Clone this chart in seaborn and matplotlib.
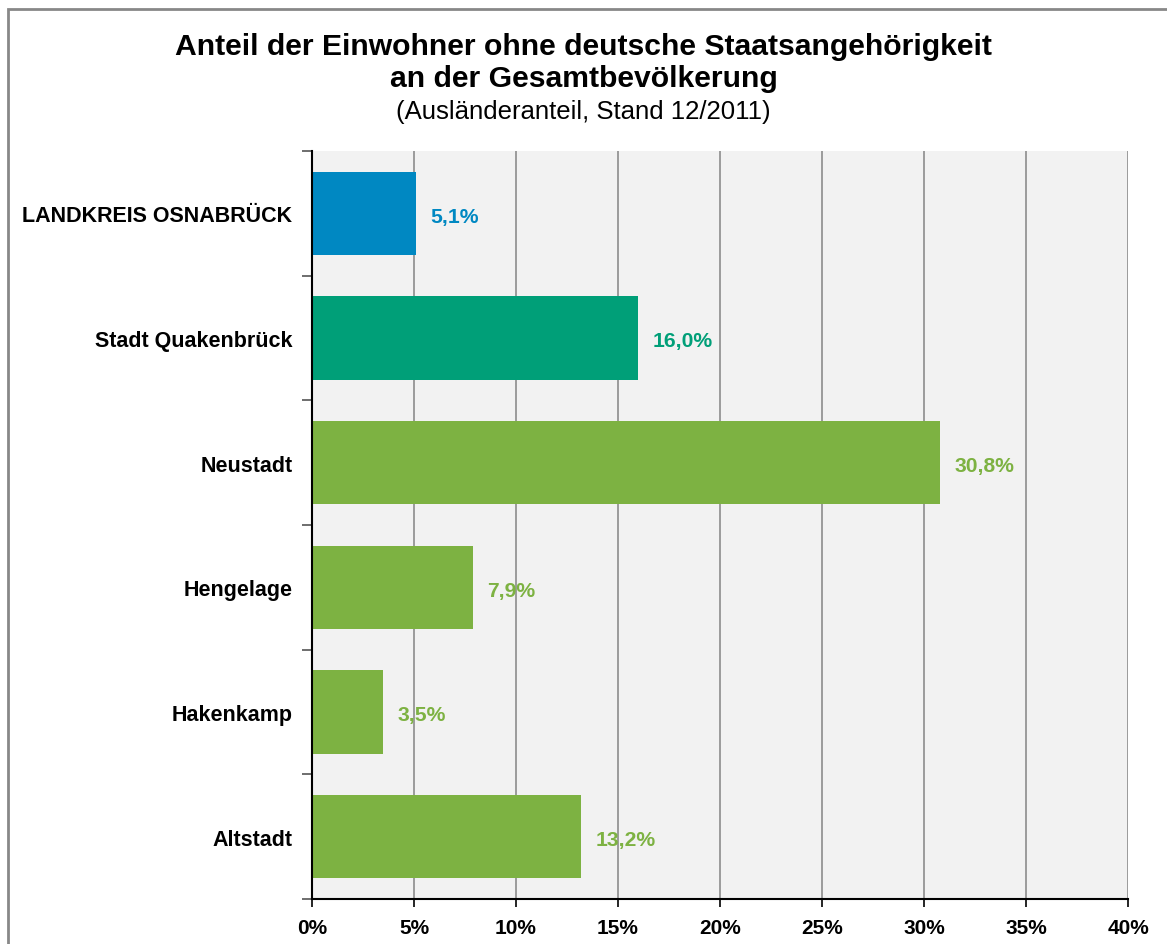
import matplotlib
matplotlib.use('Agg')
from matplotlib import pyplot as plt
from matplotlib.patches import Rectangle
import seaborn as sns
import pandas as pd

# data
categories = ['LANDKREIS OSNABRÜCK', 'Stadt Quakenbrück', 'Neustadt',
              'Hengelage', 'Hakenkamp', 'Altstadt']
shares = [5.1, 16.0, 30.8, 7.9, 3.5, 13.2]
bar_colors = ['#0088c2', '#009f78', '#7db242', '#7db242', '#7db242', '#7db242']
xticks = [0, 5, 10, 15, 20, 25, 30, 35, 40]

plt.rcParams['font.family'] = ['Liberation Sans', 'DejaVu Sans']

df = pd.DataFrame({'Gebiet': categories, 'Anteil': shares})

fig = plt.figure(figsize=(11.67, 9.45), dpi=100)
ax = fig.add_axes([312 / 1167, 1 - 900 / 945, (1128 - 312) / 1167, (900 - 152) / 945])
ax.set_facecolor('#f2f2f2')

sns.barplot(data=df, x='Anteil', y='Gebiet', hue='Gebiet', palette=bar_colors,
            orient='h', width=0.67, legend=False, saturation=1, ax=ax)

ax.set_xlim(0, 40)
ax.set_ylim(5.5, -0.5)
ax.set_xticks(xticks)
ax.set_xticklabels(['%d%%' % t for t in xticks], fontsize=15, fontweight='bold')
ax.set_yticks(range(len(categories)))
ax.set_yticklabels(categories, fontsize=15.5, fontweight='bold')
ax.tick_params(axis='y', which='major', length=0, pad=14)
ax.set_yticks([i - 0.5 for i in range(len(categories) + 1)], minor=True)
ax.tick_params(axis='y', which='minor', length=7, width=1.2, color='#555555')
ax.tick_params(axis='x', length=6, width=1.2, pad=8)
ax.set_xlabel('')
ax.set_ylabel('')

ax.grid(axis='x', color='#8c8c8c', linewidth=1.2)
ax.set_axisbelow(True)
for s in ['top', 'right']:
    ax.spines[s].set_visible(False)
for s in ['left', 'bottom']:
    ax.spines[s].set_color('black')
    ax.spines[s].set_linewidth(1.5)

for i, v in enumerate(shares):
    ax.annotate(('%.1f%%' % v).replace('.', ','), xy=(v, i), xytext=(10, -2),
                textcoords='offset points', va='center', ha='left',
                fontsize=15.2, fontweight='bold', color=bar_colors[i])

fig.text(0.5, 1 - 47 / 945, 'Anteil der Einwohner ohne deutsche Staatsangehörigkeit',
         ha='center', va='center', fontsize=21.7, fontweight='bold')
fig.text(0.5, 1 - 79 / 945, 'an der Gesamtbevölkerung',
         ha='center', va='center', fontsize=21.7, fontweight='bold')
fig.text(0.5, 1 - 112 / 945, '(Ausländeranteil, Stand 12/2011)',
         ha='center', va='center', fontsize=18.5)

# outer chart frame (right and bottom edges fall outside the image)
fig.patches.append(Rectangle((8 / 1167, -0.1), 1.2, 1.1 - 10 / 945,
                             transform=fig.transFigure, fill=False,
                             edgecolor='#888888', linewidth=2))

fig.savefig('out.png', dpi=100)
